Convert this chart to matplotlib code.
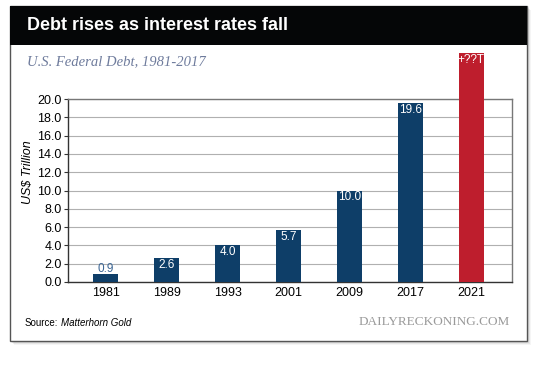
import matplotlib
matplotlib.use('Agg')
from matplotlib import pyplot as plt
from matplotlib.patches import Rectangle
import numpy as np

years = ['1981', '1989', '1993', '2001', '2009', '2017', '2021']
debt = [0.9, 2.6, 4.0, 5.7, 10.0, 19.6, 25.0]
bar_labels = ['0.9', '2.6', '4.0', '5.7', '10.0', '19.6', '+??T']
bar_colors = ['#0e3e68'] * 6 + ['#be1e2d']
yticks = np.arange(0, 21, 2)

W, H = 540, 366
plt.rcParams['font.family'] = ['Liberation Sans', 'DejaVu Sans']
fig = plt.figure(figsize=(W / 100, H / 100), dpi=100)
fig.patch.set_facecolor('white')

def px(x, y):
    # pixel (top-left origin) -> figure fraction
    return x / W, 1 - y / H

# card shadow + card
for i, a in enumerate([0.10, 0.08, 0.06, 0.04]):
    d = i + 1
    x0, y0 = px(10 + d, 341 + d)
    fig.add_artist(Rectangle((x0, y0), 517 / W, 335 / H, transform=fig.transFigure,
                             facecolor='black', alpha=a, edgecolor='none', zorder=0))
x0, y0 = px(10, 341)
fig.add_artist(Rectangle((x0, y0), 517 / W, 335 / H, transform=fig.transFigure,
                         facecolor='white', edgecolor='#555555', lw=1.0, zorder=1))
# header bar
x0, y0 = px(10, 45)
fig.add_artist(Rectangle((x0, y0), 517 / W, 39 / H, transform=fig.transFigure,
                         facecolor='#050607', edgecolor='none', zorder=2))

fig.text(*px(27, 26), 'Debt rises as interest rates fall', color='white',
         fontsize=13, fontweight='bold', va='center', ha='left', zorder=3)
fig.text(*px(27, 62), 'U.S. Federal Debt, 1981-2017', color='#6e7b9c',
         fontsize=10.5, fontstyle='italic', family='Liberation Serif', va='center', zorder=3)

ax = fig.add_axes([68 / W, 1 - 282 / H, 444 / W, 183 / H], zorder=4)
ax.set_facecolor('none')
x = np.arange(len(years))
bars = ax.bar(x, debt, width=0.41, color=bar_colors, zorder=3, clip_on=False)
ax.set_xlim(-0.62, 6.67)
ax.set_ylim(0, 20)
ax.set_yticks(yticks)
ax.set_yticklabels(['%.1f' % v for v in yticks], fontsize=9)
ax.set_xticks(x)
ax.set_xticklabels(years, fontsize=9)
ax.tick_params(axis='x', length=0, pad=3.5)
ax.tick_params(axis='y', length=3, width=0.8, pad=1.5, color='#333333')
ax.grid(axis='y', color='#b0b0b0', lw=0.8, zorder=0)
for s in ['left', 'bottom']:
    ax.spines[s].set_color('#333333')
    ax.spines[s].set_linewidth(1.0)
for s in ['top', 'right']:
    ax.spines[s].set_color('#777777')
    ax.spines[s].set_linewidth(1.0)
ax.set_ylabel('US$ Trillion', fontsize=9, fontstyle='italic')
ax.yaxis.set_label_coords(34 / W, 1 - 172 / H, transform=fig.transFigure)

for b, v, lab in zip(bars, debt, bar_labels):
    cx = b.get_x() + b.get_width() / 2
    if v < 2:
        ax.annotate(lab, (cx, v), xytext=(0, 5), textcoords='offset pixels',
                    ha='center', va='center', fontsize=8.5, color='#3b6594')
    else:
        ax.annotate(lab, (cx, v), xytext=(0, -7), textcoords='offset pixels',
                    ha='center', va='center', fontsize=8.5, color='white',
                    annotation_clip=False, zorder=5)

src = fig.text(*px(25, 323), 'Source:', fontsize=7, va='center', zorder=3)
fig.canvas.draw()
bb = src.get_window_extent()
fig.text((bb.x1 + 3) / W, 1 - 323 / H, 'Matterhorn Gold', fontsize=7,
         fontstyle='italic', va='center', zorder=3)
fig.text(*px(510, 322), 'DAILYRECKONING.COM', fontsize=9.5, family='Liberation Serif',
         color='#9a9a9a', ha='right', va='center', zorder=3)

fig.savefig('out.png', dpi=100)
